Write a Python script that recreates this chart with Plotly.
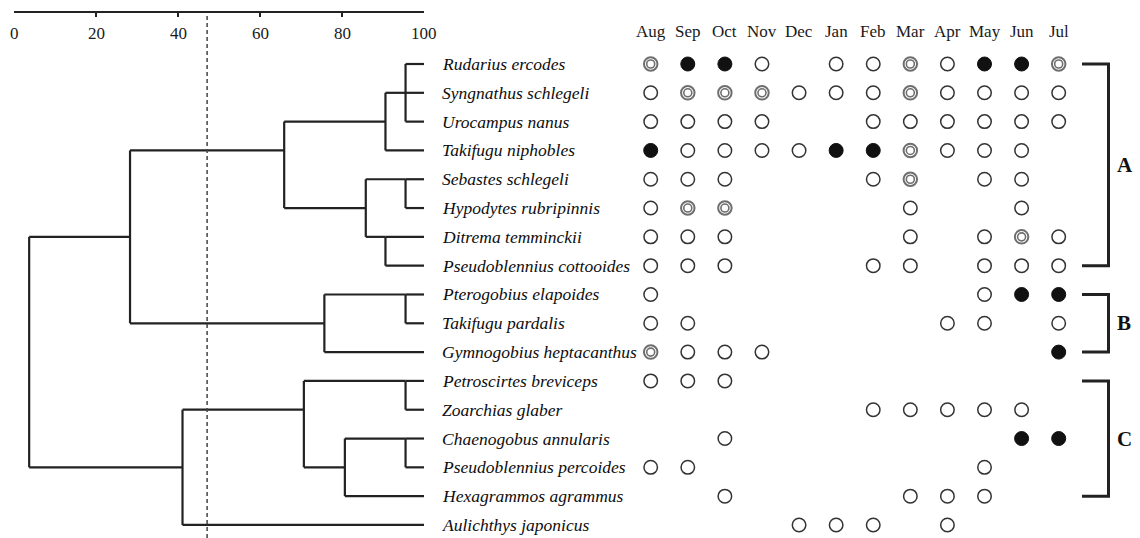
import plotly.graph_objects as go

# ---------------- data ----------------
species = [
    "Rudarius ercodes", "Syngnathus schlegeli", "Urocampus nanus", "Takifugu niphobles",
    "Sebastes schlegeli", "Hypodytes rubripinnis", "Ditrema temminckii",
    "Pseudoblennius cottooides", "Pterogobius elapoides", "Takifugu pardalis",
    "Gymnogobius heptacanthus", "Petroscirtes breviceps", "Zoarchias glaber",
    "Chaenogobus annularis", "Pseudoblennius percoides", "Hexagrammos agrammus",
    "Aulichthys japonicus",
]
months = ["Aug", "Sep", "Oct", "Nov", "Dec", "Jan", "Feb", "Mar", "Apr", "May", "Jun", "Jul"]

# 0 = absent, 1 = open circle, 2 = double circle, 3 = filled circle
occurrence = [
    [2, 3, 3, 1, 0, 1, 1, 2, 1, 3, 3, 2],
    [1, 2, 2, 2, 1, 1, 1, 2, 1, 1, 1, 1],
    [1, 1, 1, 1, 0, 0, 1, 1, 1, 1, 1, 1],
    [3, 1, 1, 1, 1, 3, 3, 2, 1, 1, 1, 0],
    [1, 1, 1, 0, 0, 0, 1, 2, 0, 1, 1, 0],
    [1, 2, 2, 0, 0, 0, 0, 1, 0, 0, 1, 0],
    [1, 1, 1, 0, 0, 0, 0, 1, 0, 1, 2, 1],
    [1, 1, 1, 0, 0, 0, 1, 1, 0, 1, 1, 1],
    [1, 0, 0, 0, 0, 0, 0, 0, 0, 1, 3, 3],
    [1, 1, 0, 0, 0, 0, 0, 0, 1, 1, 0, 1],
    [2, 1, 1, 1, 0, 0, 0, 0, 0, 0, 0, 3],
    [1, 1, 1, 0, 0, 0, 0, 0, 0, 0, 0, 0],
    [0, 0, 0, 0, 0, 0, 1, 1, 1, 1, 1, 0],
    [0, 0, 1, 0, 0, 0, 0, 0, 0, 0, 3, 3],
    [1, 1, 0, 0, 0, 0, 0, 0, 0, 1, 0, 0],
    [0, 0, 1, 0, 0, 0, 0, 1, 1, 1, 0, 0],
    [0, 0, 0, 0, 1, 1, 1, 0, 1, 0, 0, 0],
]

# dendrogram merges: name, children (leaf = species index), similarity (%), row where branch is drawn
merges = [
    ("n1", [0, 1, 2], 95.5, 1),
    ("n2", ["n1", 3], 90.6, 2),
    ("n3", [4, 5], 95.5, 4),
    ("n4", [6, 7], 90.6, 6),
    ("n5", ["n3", "n4"], 85.8, 5),
    ("n6", ["n2", "n5"], 65.9, 3),
    ("n7", [8, 9], 95.5, 8),
    ("n8", ["n7", 10], 75.7, 9),
    ("n9", ["n6", "n8"], 28.3, 6),
    ("n10", [11, 12], 95.5, 11),
    ("n11", [13, 14], 95.5, 13),
    ("n12", ["n11", 15], 80.7, 14),
    ("n13", ["n10", "n12"], 70.7, 12),
    ("n14", ["n13", 16], 41.1, 14),
    ("root", ["n9", "n14"], 3.7, 10),
]
cut_level = 47.1
sim_ticks = [0, 20, 40, 60, 80, 100]

groups = [("A", 0, 7), ("B", 8, 10), ("C", 11, 15)]

# ---------------- layout constants ----------------
W, H = 1140, 538
FONT = "Liberation Serif"
row_px0, row_step = 64.0, 28.81
plot_top = 13.0
y_top = (plot_top - row_px0) / row_step
y_bot = (H - row_px0) / row_step

month_px0, month_step = 650.7, 37.09
m_lo = -(month_px0 - 600) / month_step
m_hi = m_lo + 540 / month_step

fig = go.Figure()

# ---------------- dendrogram ----------------
node_pos = {i: (100.0, i) for i in range(len(species))}
dx, dy = [], []
for name, children, h, row in merges:
    crow = [node_pos[c][1] for c in children]
    dx += [h, h, None]
    dy += [min(crow), max(crow), None]
    for c in children:
        ch, cr = node_pos[c]
        dx += [h, ch, None]
        dy += [cr, cr, None]
    node_pos[name] = (h, row)

fig.add_trace(go.Scatter(x=dx, y=dy, mode="lines", xaxis="x", yaxis="y",
                         line=dict(color="#222222", width=2.2), hoverinfo="skip",
                         showlegend=False))

# ---------------- occurrence circles ----------------
def pts(code):
    xs, ys = [], []
    for r, rowvals in enumerate(occurrence):
        for m, v in enumerate(rowvals):
            if v == code:
                xs.append(m)
                ys.append(r)
    return xs, ys

x1, y1 = pts(1)
x2, y2 = pts(2)
x3, y3 = pts(3)
fig.add_trace(go.Scatter(x=x1, y=y1, mode="markers", xaxis="x2", yaxis="y",
                         marker=dict(symbol="circle", size=13.5, color="white",
                                     line=dict(color="#333333", width=1.5)),
                         showlegend=False, hoverinfo="skip"))
fig.add_trace(go.Scatter(x=x2, y=y2, mode="markers", xaxis="x2", yaxis="y",
                         marker=dict(symbol="circle", size=13.5, color="white",
                                     line=dict(color="#6e6e6e", width=2.0)),
                         showlegend=False, hoverinfo="skip"))
fig.add_trace(go.Scatter(x=x2, y=y2, mode="markers", xaxis="x2", yaxis="y",
                         marker=dict(symbol="circle", size=8.0, color="white",
                                     line=dict(color="#6e6e6e", width=1.6)),
                         showlegend=False, hoverinfo="skip"))
fig.add_trace(go.Scatter(x=x3, y=y3, mode="markers", xaxis="x2", yaxis="y",
                         marker=dict(symbol="circle", size=14, color="#111111",
                                     line=dict(color="#111111", width=1)),
                         showlegend=False, hoverinfo="skip"))

# ---------------- annotations ----------------
ann = []
for i, s in enumerate(species):
    ann.append(dict(x=440 / W, xref="paper", y=i, yref="y", text=f"<i>{s}</i>",
                    showarrow=False, xanchor="left", yanchor="middle",
                    font=dict(family=FONT, size=17.5, color="#0d0d0d")))
for m, lab in enumerate(months):
    ann.append(dict(x=m, xref="x2", y=1 - 31.7 / H, yref="paper", text=lab,
                    showarrow=False, xanchor="center", yanchor="middle",
                    font=dict(family=FONT, size=17, color="#1a1a1a")))
for t in sim_ticks:
    ann.append(dict(x=t, xref="x", y=1 - 33 / H, yref="paper", text=str(t),
                    showarrow=False, xanchor="center", yanchor="middle",
                    font=dict(family=FONT, size=17, color="#1a1a1a")))

shapes = []
bx0 = m_lo + (1082 - 600) / month_step
bx1 = m_lo + (1108.5 - 600) / month_step
for lab, r0, r1 in groups:
    shapes.append(dict(type="path", xref="x2", yref="y",
                       path=f"M {bx0},{r0} L {bx1},{r0} L {bx1},{r1} L {bx0},{r1}",
                       line=dict(color="#222222", width=3)))
    ann.append(dict(x=m_lo + (1115 - 600) / month_step, xref="x2", y=(r0 + r1) / 2, yref="y",
                    text=f"<b>{lab}</b>", showarrow=False, xanchor="left", yanchor="middle",
                    font=dict(family=FONT, size=21, color="#111111")))

# dashed cut line
shapes.append(dict(type="line", xref="x", yref="paper", x0=cut_level, x1=cut_level,
                   y0=0, y1=1 - 15 / H,
                   line=dict(color="#444444", width=1.5, dash="4px,3px")))

fig.update_layout(
    width=W, height=H,
    margin=dict(l=0, r=0, t=0, b=0),
    paper_bgcolor="white", plot_bgcolor="rgba(0,0,0,0)",
    showlegend=False,
    annotations=ann, shapes=shapes,
    xaxis=dict(domain=[14 / W, 424 / W], range=[0, 100], side="top", anchor="y",
               showgrid=False, zeroline=False, showline=True, linecolor="#222222",
               linewidth=2.2, ticks="inside", ticklen=4, tickwidth=2, tickcolor="#222222",
               tickvals=sim_ticks, showticklabels=False),
    xaxis2=dict(domain=[600 / W, 1.0], range=[m_lo, m_hi], anchor="y", visible=False),
    yaxis=dict(domain=[0, 1 - plot_top / H], range=[y_bot, y_top], visible=False),
)

fig.write_html("out.html", config={"displayModeBar": False},
               post_script="document.body.style.margin='0';document.body.style.overflow='hidden';")
